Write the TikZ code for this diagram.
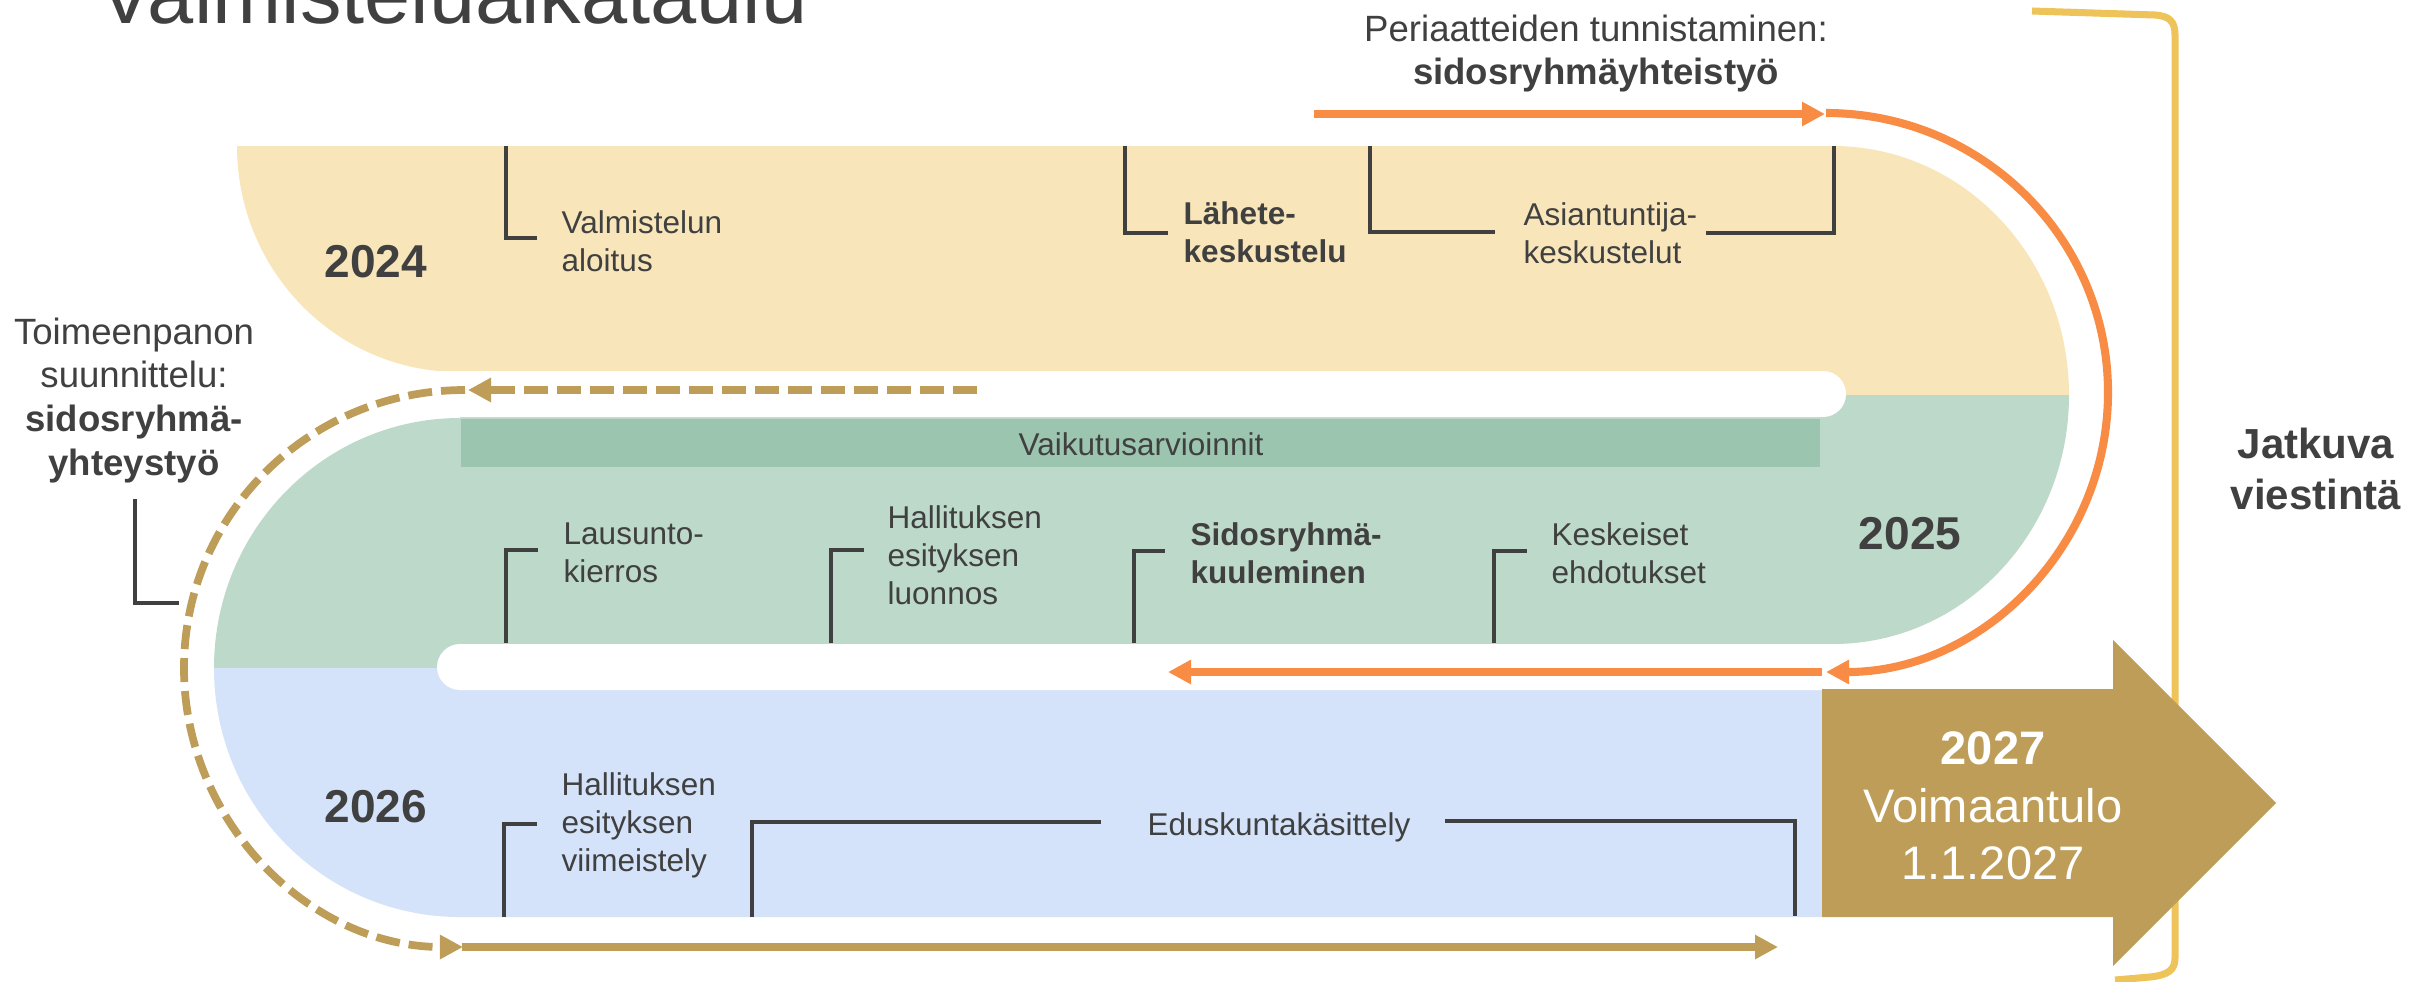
\documentclass[tikz,border=0pt]{standalone}
\usepackage{fontspec}
\setmainfont{Liberation Sans}
\usetikzlibrary{arrows.meta}
\definecolor{txt}{HTML}{404040}
\definecolor{yel}{HTML}{F8E6BA}
\definecolor{grn}{HTML}{BDD9C9}
\definecolor{grnd}{HTML}{9CC5AF}
\definecolor{blu}{HTML}{D4E3F9}
\definecolor{gold}{HTML}{BD9D57}
\definecolor{orng}{HTML}{F98C45}
\definecolor{jat}{HTML}{EDC35A}
\begin{document}
\begin{tikzpicture}[x=0.01cm,y=-0.01cm,
  lbl/.style={inner sep=0pt, text=txt, font={\fontsize{8.96pt}{10.81pt}\selectfont}, align=left, anchor=north west},
  lblb/.style={lbl, font={\fontsize{8.96pt}{10.81pt}\selectfont\bfseries}},
  yearlbl/.style={inner sep=0pt, text=txt, font={\fontsize{13.1pt}{15pt}\selectfont\bfseries}, anchor=base},
  sidelbl/.style={inner sep=0pt, text=txt, font={\fontsize{10.4pt}{12.45pt}\selectfont}, align=center, anchor=north},
  brk/.style={draw=txt, line width=1.15pt},
  tipa/.style={-{Triangle[length=0.23cm,width=0.23cm]}},
  orline/.style={draw=orng, line width=2.3pt},
  goldline/.style={draw=gold, line width=2.2pt},
  golddash/.style={goldline, dash pattern=on 0.24cm off 0.09cm},
  jatline/.style={draw=jat, line width=2pt}
]
\useasboundingbox (0,0) rectangle (2433,981);
% bands
\fill[yel] (237,146) -- (1833,146) .. controls (1963.3,146) and (2069,257.5) .. (2069,395)
  -- (459,395) -- (459,372) .. controls (336.4,372) and (237,270.8) .. (237,146) -- cycle;
\fill[grn] (460,395) -- (2069,395) .. controls (2069,532.5) and (1963.3,644) .. (1833,644)
  -- (1833,668) -- (214,668) .. controls (214,529.9) and (324.1,418) .. (460,418) -- cycle;
\fill[blu] (214,668) .. controls (214,806.1) and (324.1,917) .. (460,917) -- (1822,917) -- (1822,668) -- cycle;
% white separators
\fill[white] (440,371) -- (1823,371) .. controls (1835.7,371) and (1846,381.3) .. (1846,394)
  .. controls (1846,406.7) and (1835.7,417) .. (1823,417) -- (440,417) -- cycle;
\fill[white] (1842,644) -- (460,644) .. controls (447.3,644) and (437,654.3) .. (437,667)
  .. controls (437,679.7) and (447.3,690) .. (460,690) -- (1842,690) -- cycle;
% impact assessment bar
\fill[grnd] (461,419) rectangle (1820,467);
\node[lbl, anchor=base] (vaik) at (1141,455) {Vaikutusarvioinnit};
% continuous communication bracket
\draw[jatline] (2032,11) -- (2155,15) .. controls (2170,16) and (2175,22) .. (2175,35)
  -- (2175,958) .. controls (2175,970) and (2168,975) .. (2150,977) -- (2115,980);
% 2027 arrow
\fill[gold] (1822,689) -- (2113,689) -- (2113,640) -- (2276,803) -- (2113,966) -- (2113,917) -- (1822,917) -- cycle;
\node[inner sep=0pt, text=white, align=center, anchor=north, font={\fontsize{13.37pt}{16.36pt}\selectfont}]
  (v2027) at (1993,731.3) {\textbf{2027}\\Voimaantulo\\1.1.2027};
% orange arrows
\draw[orline, tipa] (1314,114) -- (1825,114);
\draw[orline, tipa] (1826,113) .. controls (1981.7,113) and (2108,238.1) .. (2108,392.5)
  .. controls (2108,546.9) and (1981.7,672) .. (1826,672);
\draw[orline, tipa] (1822,672) -- (1168,672);
% gold arrows
\draw[golddash, tipa] (977,390) -- (468,390);
\draw[golddash, tipa] (465,390) .. controls (309.8,390) and (184,513.9) .. (184,668)
  .. controls (184,822.1) and (309.8,947) .. (463,947);
\draw[goldline, tipa] (462,947) -- (1778,947);
% milestone brackets
\draw[brk] (506,146) -- (506,238) -- (537,238);
\draw[brk] (1125,146) -- (1125,233) -- (1168,233);
\draw[brk] (1370,146) -- (1370,232) -- (1495,232);
\draw[brk] (1706,233) -- (1834,233) -- (1834,146);
\draw[brk] (506,643) -- (506,550) -- (538,550);
\draw[brk] (831,643) -- (831,550) -- (864,550);
\draw[brk] (1134,643) -- (1134,551) -- (1165,551);
\draw[brk] (1494,643) -- (1494,551) -- (1527,551);
\draw[brk] (504,917) -- (504,824) -- (537,824);
\draw[brk] (752,917) -- (752,822) -- (1101,822);
\draw[brk] (1445,821) -- (1795,821) -- (1795,916);
\draw[brk] (135,499) -- (135,603) -- (179,603);
% labels
\node[lbl] (valm) at (561,210.4) {Valmistelun\\aloitus};
\node[lblb] (lahete) at (1183,201.4) {Lähete-\\keskustelu};
\node[lbl] (asi) at (1523,202.4) {Asiantuntija-\\keskustelut};
\node[lbl] (laus) at (563,522.4) {Lausunto-\\kierros};
\node[lbl] (hall1) at (887,505.4) {Hallituksen\\esityksen\\luonnos};
\node[lblb] (sido) at (1190,522.4) {Sidosryhmä-\\kuuleminen};
\node[lbl] (kesk) at (1551,522.4) {Keskeiset\\ehdotukset};
\node[lbl] (hall2) at (561,772.4) {Hallituksen\\esityksen\\viimeistely};
\node[lbl, anchor=base] (edus) at (1279,835) {Eduskuntakäsittely};
\node[yearlbl] (y2024) at (376,277) {2024};
\node[yearlbl] (y2025) at (1910,549) {2025};
\node[yearlbl] (y2026) at (376,822) {2026};
\node[sidelbl] (toim) at (134,316.9) {Toimeenpanon\\suunnittelu:\\\textbf{sidosryhmä-}\\\textbf{yhteystyö}};
\node[sidelbl] (peri) at (1596,13.9) {Periaatteiden tunnistaminen:\\\textbf{sidosryhmäyhteistyö}};
\node[inner sep=0pt, text=txt, align=center, anchor=north, font={\fontsize{11.95pt}{14.5pt}\selectfont\bfseries}]
  (jatk) at (2316,426.9) {Jatkuva\\viestintä};
\node[inner sep=0pt, text=txt, anchor=base west, font={\fontsize{23.6pt}{28pt}\selectfont}]
  (title) at (98,23) {Valmisteluaikataulu};
\end{tikzpicture}
\end{document}
